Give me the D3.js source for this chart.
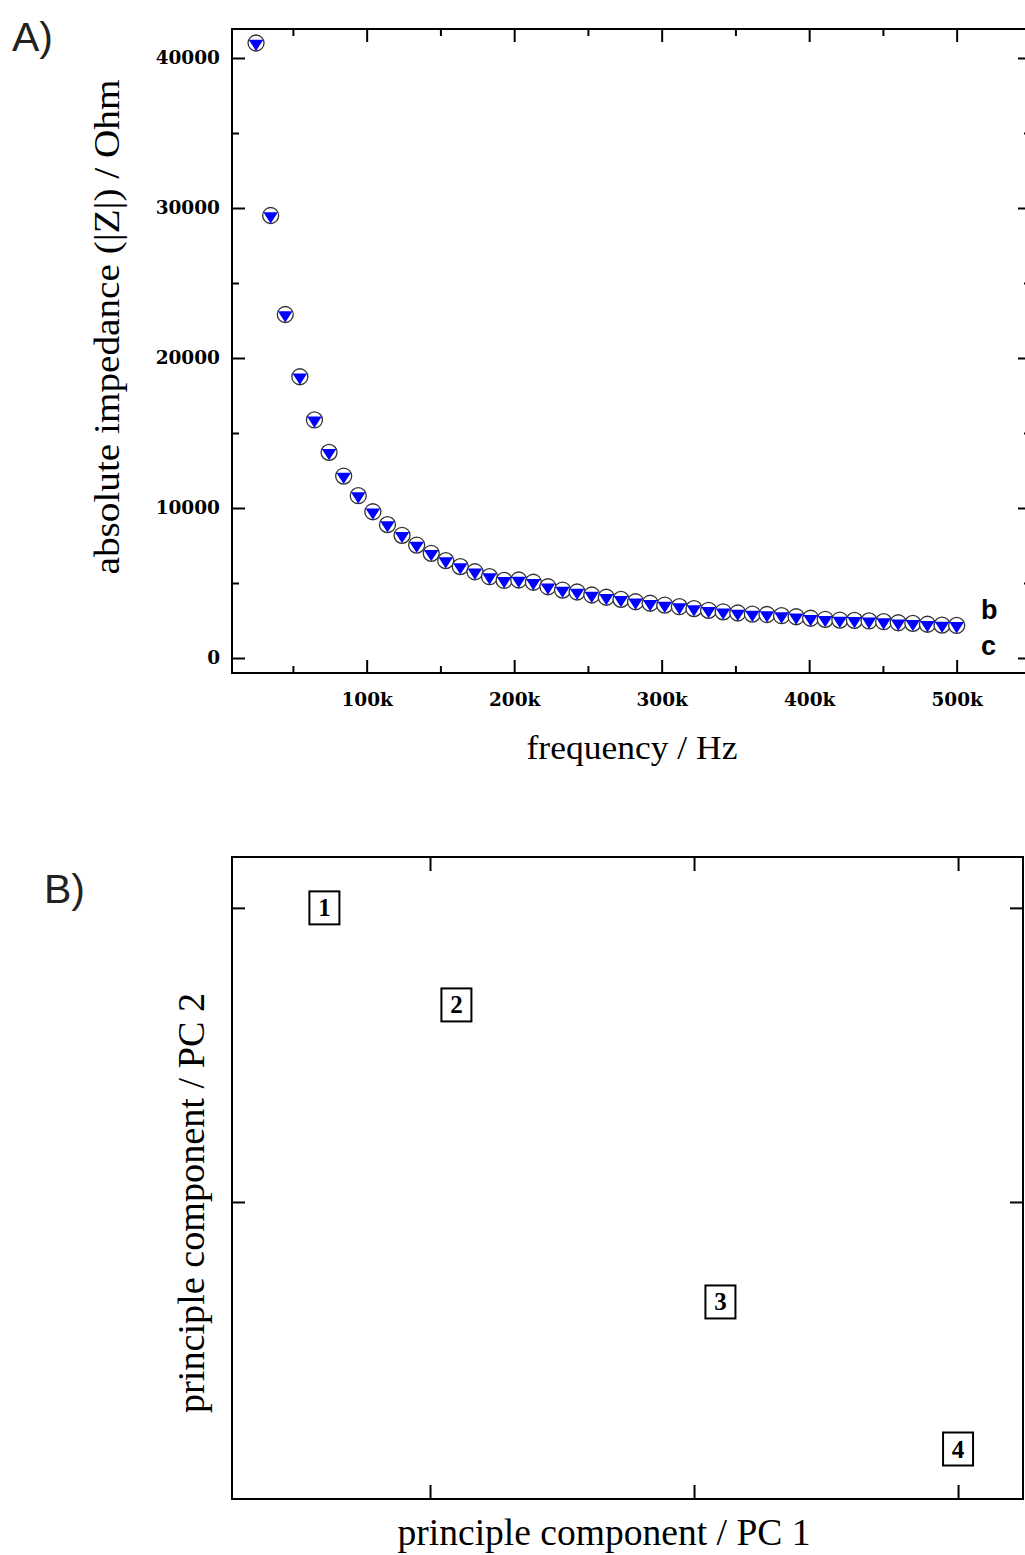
<!DOCTYPE html>
<html><head><meta charset="utf-8">
<script src="https://cdn.jsdelivr.net/npm/d3@7/dist/d3.min.js"></script>
<style>body{margin:0;background:#fff}svg{display:block}</style>
</head><body>
<script>
// ---------- Panel A data ----------
const frequency = [25000,34900,44800,54700,64600,74500,84400,94300,104200,114100,124000,133900,143800,153600,163500,173400,183300,193200,203100,213000,222900,232800,242700,252600,262500,272400,282300,292200,302100,312000,321900,331800,341700,351600,361500,371400,381300,391200,401000,410900,420800,430700,440600,450500,460400,470300,480200,490100,500000];
const seriesB = [41000,29500,22900,18750,15870,13710,12130,10820,9750,8890,8180,7530,6980,6490,6090,5750,5420,5170,5200,5050,4750,4530,4400,4200,4050,3910,3750,3650,3530,3420,3290,3180,3080,3000,2930,2900,2820,2750,2650,2580,2530,2510,2470,2420,2350,2310,2250,2190,2170];
const seriesC = [40850,29350,22750,18600,15720,13560,11980,10670,9600,8740,8030,7380,6830,6340,5940,5600,5270,5020,5050,4900,4600,4380,4250,4050,3900,3760,3600,3500,3380,3270,3140,3030,2930,2850,2780,2750,2670,2600,2500,2430,2380,2360,2320,2270,2200,2160,2100,2040,2020];
const xMajorTicksA = [100000,200000,300000,400000,500000];
const xTickLabelsA = ["100k","200k","300k","400k","500k"];
const xMinorTicksA = [50000,150000,250000,350000,450000,550000];
const yMajorTicksA = [0,10000,20000,30000,40000];
const yMinorTicksA = [5000,15000,25000,35000];
const seriesLabels = ["b","c"];

// ---------- Panel B data ----------
const sampleIds = ["1","2","3","4"];
const pc1 = [-1.40,-0.90,0.10,1.00];
const pc2 = [1.00,0.67,-0.34,-0.84];
const xTicksB = [-1,0,1];
const yTicksB = [0,1];

const W = 1025, H = 1555;
const svg = d3.select("body").append("svg").attr("width",W).attr("height",H);

const serif = "'Liberation Serif','Times New Roman',serif";
const tickFont = "'DejaVu Serif',serif";

// ================= Panel A =================
const A = {left:232, right:1031, top:29, bottom:673};
const xA = d3.scaleLinear().domain([8700,550400]).range([A.left,A.right]);
const yA = d3.scaleLinear().domain([-1000,41933]).range([A.bottom,A.top]);
const gA = svg.append("g");

function axisStyle(g){
  g.select(".domain").remove();
  g.selectAll(".tick line").attr("stroke","#000").attr("stroke-width",2);
}
function labelStyle(g){
  g.selectAll("text").attr("font-family",tickFont).attr("font-weight","bold").attr("font-size",18.5).attr("fill","#000");
}
// bottom
gA.append("g").attr("transform",`translate(0,${A.bottom})`)
  .call(d3.axisBottom(xA).tickValues(xMajorTicksA).tickSize(-13).tickPadding(20)
        .tickFormat((d,i)=>xTickLabelsA[i]))
  .call(axisStyle).call(labelStyle);
gA.append("g").attr("transform",`translate(0,${A.bottom})`)
  .call(d3.axisBottom(xA).tickValues(xMinorTicksA).tickSize(-7).tickFormat(""))
  .call(axisStyle);
// top
gA.append("g").attr("transform",`translate(0,${A.top})`)
  .call(d3.axisTop(xA).tickValues(xMajorTicksA).tickSize(-13).tickFormat(""))
  .call(axisStyle);
gA.append("g").attr("transform",`translate(0,${A.top})`)
  .call(d3.axisTop(xA).tickValues(xMinorTicksA).tickSize(-7).tickFormat(""))
  .call(axisStyle);
// left
gA.append("g").attr("transform",`translate(${A.left},0)`)
  .call(d3.axisLeft(yA).tickValues(yMajorTicksA).tickSize(-13).tickPadding(12).tickFormat(d3.format("d")))
  .call(axisStyle).call(labelStyle);
gA.append("g").attr("transform",`translate(${A.left},0)`)
  .call(d3.axisLeft(yA).tickValues(yMinorTicksA).tickSize(-7).tickFormat(""))
  .call(axisStyle);
// right
gA.append("g").attr("transform",`translate(${A.right},0)`)
  .call(d3.axisRight(yA).tickValues(yMajorTicksA).tickSize(-13).tickFormat(""))
  .call(axisStyle);
gA.append("g").attr("transform",`translate(${A.right},0)`)
  .call(d3.axisRight(yA).tickValues(yMinorTicksA).tickSize(-7).tickFormat(""))
  .call(axisStyle);
// frame
gA.append("rect").attr("x",A.left).attr("y",A.top).attr("width",A.right-A.left).attr("height",A.bottom-A.top)
  .attr("fill","none").attr("stroke","#000").attr("stroke-width",2);

// markers
gA.append("g").selectAll("circle").data(frequency).join("circle")
  .attr("cx",(d)=>xA(d)).attr("cy",(d,i)=>yA(seriesB[i])).attr("r",8)
  .attr("fill","#fff").attr("stroke","#333").attr("stroke-width",1.3);
gA.append("g").selectAll("path").data(frequency).join("path")
  .attr("transform",(d,i)=>`translate(${xA(d)},${yA(seriesC[i])})`)
  .attr("d","M-7.3,-5.6L7.3,-5.6L0,5.7Z").attr("fill","#0000ff");

// series labels
gA.append("text").attr("x",981).attr("y",619).text(seriesLabels[0])
  .attr("font-family","'Liberation Sans',Arial,sans-serif").attr("font-weight","bold").attr("font-size",27);
gA.append("text").attr("x",981).attr("y",655).text(seriesLabels[1])
  .attr("font-family","'Liberation Sans',Arial,sans-serif").attr("font-weight","bold").attr("font-size",27);

// axis titles
gA.append("text").attr("x",632).attr("y",759).attr("text-anchor","middle")
  .attr("font-family",serif).attr("font-size",34).attr("textLength",211).attr("lengthAdjust","spacingAndGlyphs")
  .text("frequency / Hz");
gA.append("text").attr("transform","translate(119,327) rotate(-90)").attr("text-anchor","middle")
  .attr("font-family",serif).attr("font-size",35).attr("textLength",495).attr("lengthAdjust","spacingAndGlyphs")
  .text("absolute impedance (|Z|) / Ohm");
svg.append("text").attr("x",12).attr("y",51).attr("font-family","'Liberation Sans',Arial,sans-serif")
  .attr("font-size",41).attr("fill","#222").text("A)");

// ================= Panel B =================
const B = {left:232, right:1023, top:857, bottom:1499};
const xB = d3.scaleLinear().domain([-1.75,1.246]).range([B.left,B.right]);
const yB = d3.scaleLinear().domain([-1.010,1.173]).range([B.bottom,B.top]);
const gB = svg.append("g");
gB.append("g").attr("transform",`translate(0,${B.bottom})`)
  .call(d3.axisBottom(xB).tickValues(xTicksB).tickSize(-14).tickFormat("")).call(axisStyle);
gB.append("g").attr("transform",`translate(0,${B.top})`)
  .call(d3.axisTop(xB).tickValues(xTicksB).tickSize(-14).tickFormat("")).call(axisStyle);
gB.append("g").attr("transform",`translate(${B.left},0)`)
  .call(d3.axisLeft(yB).tickValues(yTicksB).tickSize(-13).tickFormat("")).call(axisStyle);
gB.append("g").attr("transform",`translate(${B.right},0)`)
  .call(d3.axisRight(yB).tickValues(yTicksB).tickSize(-13).tickFormat("")).call(axisStyle);
gB.append("rect").attr("x",B.left).attr("y",B.top).attr("width",B.right-B.left).attr("height",B.bottom-B.top)
  .attr("fill","none").attr("stroke","#000").attr("stroke-width",2);

const pts = gB.append("g").selectAll("g").data(sampleIds).join("g")
  .attr("transform",(d,i)=>`translate(${xB(pc1[i])},${yB(pc2[i])})`);
pts.append("rect").attr("x",-15).attr("y",-16.5).attr("width",30).attr("height",33)
  .attr("fill","#fff").attr("stroke","#000").attr("stroke-width",2);
pts.append("text").attr("text-anchor","middle").attr("y",8.5).attr("font-family",serif)
  .attr("font-weight","bold").attr("font-size",25).text(d=>d);

gB.append("text").attr("x",604).attr("y",1545).attr("text-anchor","middle")
  .attr("font-family",serif).attr("font-size",37).attr("textLength",413).attr("lengthAdjust","spacingAndGlyphs")
  .text("principle component / PC 1");
gB.append("text").attr("transform","translate(204,1203) rotate(-90)").attr("text-anchor","middle")
  .attr("font-family",serif).attr("font-size",37).attr("textLength",420).attr("lengthAdjust","spacingAndGlyphs")
  .text("principle component / PC 2");
svg.append("text").attr("x",44).attr("y",903).attr("font-family","'Liberation Sans',Arial,sans-serif")
  .attr("font-size",41).attr("fill","#222").text("B)");
</script>
</body></html>
